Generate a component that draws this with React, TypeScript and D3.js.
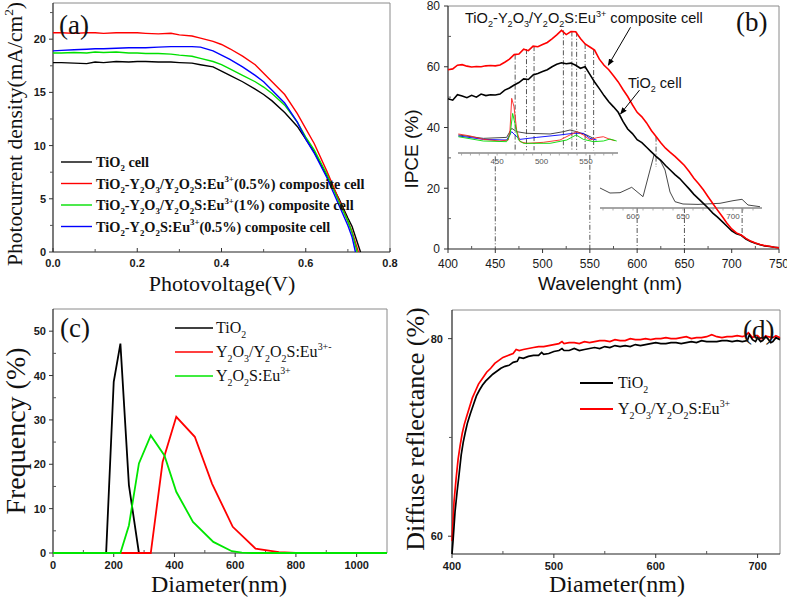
import React from "react";
import * as d3 from "d3";

const SERIF = "'Liberation Serif', 'Times New Roman', serif";
const SANS = "'Liberation Sans', Arial, sans-serif";

// ---------- (a) J-V curves ----------
const jvVoltage = [0, 0.02, 0.05, 0.08, 0.1, 0.12, 0.15, 0.18, 0.2, 0.22, 0.25, 0.28, 0.3, 0.33, 0.35, 0.38, 0.4, 0.42, 0.45, 0.48, 0.5, 0.52, 0.55, 0.58, 0.6, 0.62, 0.65, 0.68, 0.7, 0.71];
const jvTiO2 = [17.8, 17.8, 17.75, 17.7, 17.85, 17.8, 17.9, 17.85, 17.9, 17.9, 17.85, 17.85, 17.8, 17.75, 17.6, 17.4, 17.0, 16.6, 16.0, 15.3, 14.8, 14.2, 13.1, 11.8, 10.6, 9.4, 7.2, 4.9, 3.2, 2.4];
const jvComp05 = [20.6, 20.6, 20.55, 20.6, 20.6, 20.55, 20.6, 20.6, 20.6, 20.55, 20.5, 20.55, 20.4, 20.3, 20.1, 19.8, 19.5, 19.1, 18.4, 17.6, 16.8, 16.0, 14.8, 13.0, 11.6, 10.2, 7.6, 4.8, 2.9, 1.9];
const jvComp1 = [18.7, 18.7, 18.75, 18.7, 18.8, 18.75, 18.8, 18.7, 18.7, 18.65, 18.65, 18.6, 18.5, 18.4, 18.2, 17.9, 17.6, 17.2, 16.6, 16.0, 15.5, 14.9, 13.8, 12.2, 10.8, 9.6, 7.3, 4.6, 2.9, 1.8];
const jvY2O2S = [18.9, 18.95, 19.0, 19.05, 19.1, 19.1, 19.15, 19.2, 19.2, 19.2, 19.25, 19.3, 19.3, 19.3, 19.25, 18.9, 18.5, 18.1, 17.4, 16.6, 16.0, 15.2, 14.0, 12.2, 10.6, 9.3, 7.0, 4.3, 2.5, 1.4];
const jvVoc = [0.73, 0.725, 0.722, 0.718];
const jvColors = ["#000000", "#ff0000", "#00e000", "#0000ff"];
const jvLabels = [
  "TiO_2 cell",
  "TiO_2-Y_2O_3/Y_2O_2S:Eu^{3+}(0.5%) composite cell",
  "TiO_2-Y_2O_3/Y_2O_2S:Eu^{3+}(1%) composite cell",
  "TiO_2-Y_2O_2S:Eu^{3+}(0.5%) composite cell",
];

// ---------- (b) IPCE ----------
const ipceWl = d3.range(400, 751, 5);
const ipceComp = [59, 59.3, 60.5, 60.7, 60.2, 59.9, 60.1, 60.0, 60.3, 60.4, 60.3, 60.6, 61.5, 62.5, 64.0, 64.2, 65.8, 65.3, 66.8, 66.6, 67.3, 68.0, 69.2, 70.5, 72.0, 70.6, 71.6, 71.5, 69.3, 67.5, 66.5, 65.5, 62.5, 60.5, 59.0, 57.0, 55.0, 52.5, 50.2, 47.5, 45.0, 43.5, 41.5, 39.0, 37.0, 35.0, 33.2, 31.8, 30.5, 29.0, 27.5, 25.5, 23.3, 21.5, 19.5, 17.2, 15.0, 12.8, 10.7, 8.5, 6.6, 5.3, 4.6, 3.5, 2.6, 2.0, 1.5, 1.1, 0.9, 0.6, 0.4];
const ipceTiO2 = [49.5, 49.0, 50.8, 50.4, 49.8, 50.6, 50.0, 51.0, 50.5, 50.8, 50.7, 51.0, 52.3, 53.0, 54.0, 54.8, 56.0, 55.8, 57.3, 57.8, 58.4, 59.0, 60.0, 60.8, 61.3, 61.0, 61.2, 60.5, 59.5, 60.0, 57.5, 55.0, 52.8, 50.5, 48.5, 46.8, 45.0, 42.0, 39.5, 38.0, 36.0, 35.0, 33.5, 32.0, 30.5, 29.2, 27.5, 26.0, 24.5, 23.2, 21.5, 19.8, 18.0, 16.5, 15.0, 13.5, 11.8, 10.5, 9.0, 7.5, 6.0, 5.0, 4.5, 3.3, 2.5, 1.9, 1.4, 1.0, 0.8, 0.6, 0.4];
// guide lines (wavelength, top %, bottom %)
const ipceGuides: [number, number, number][] = [
  [471, 64.0, 32.5], [483, 65.8, 32.5], [491, 66.8, 32.5], [522, 72.0, 32.5],
  [531, 71.6, 32.5], [536, 71.5, 32.5], [545, 67.5, 32.5], [554, 65.5, 32.5],
  [450, 30.5, 0], [550, 31, 0], [600, 13.5, 0], [650, 13.5, 0], [711, 13.5, 3.6], [620, 37, 27],
];
// inset 1: emission spectra 406-586 nm (a.u.)
const inset1Red: [number, number][] = [[406.4, 17.3], [419.5, 15.5], [434.5, 12.4], [453, 10.9], [462.6, 11.8], [464.5, 20.9], [466.4, 49.7], [469, 42], [472, 20.9], [475.7, 10.3], [483.3, 8.8], [502, 9.7], [520.7, 11.8], [532, 16.4], [539.5, 19.4], [547, 16.4], [554.5, 11.8], [562, 13.9], [569.5, 14.8], [577, 12.4], [582.6, 11.2]];
const inset1Green: [number, number][] = [[406.4, 14.8], [434.5, 10.9], [460.7, 10.3], [464.5, 16.4], [467.5, 36], [470, 27], [474, 11.8], [479.6, 8.8], [509.6, 8.8], [528.4, 11.8], [538.9, 16.4], [547, 12.4], [558.4, 10.3], [569.6, 10.9], [577, 12.7], [584.5, 10.9]];
const inset1Blue: [number, number][] = [[406.4, 15.5], [434.5, 12.4], [460.7, 11.8], [466.4, 19.4], [470, 16.4], [475.7, 12.4], [494.5, 14.2], [520.7, 16.4], [535.7, 17.9], [547, 17.9], [554.5, 13.3], [562, 11.8]];
const inset1Black: [number, number][] = [[406.4, 16.4], [434.5, 13.3], [460.7, 14.2], [466.4, 22.4], [472, 19.4], [483.3, 17.9], [509.6, 17.3], [524.6, 19.4], [532, 20.9], [539.5, 19.4], [550.8, 16.4], [558.4, 13.3]];
const inset1Ticks = [450, 500, 550];
// inset 2: emission 567-729 nm (a.u.)
const inset2Curve: [number, number][] = [[567, 20], [577, 15], [587, 15.3], [598.7, 20.7], [610, 11.3], [617, 38], [621, 53], [627, 48], [632, 38], [637, 16], [642, 6.3], [650, 4], [665, 3.6], [687, 4.7], [700, 7.3], [709, 8.7], [715, 3], [727, 1.3]];
const inset2Ticks = [600, 650, 700];

// ---------- (c) particle size ----------
const sizeTiO2: [number, number][] = [[0, 0], [175, 0], [200, 38.6], [222, 47.2], [250, 15.3], [283, 0]];
const sizeY2O3: [number, number][] = [[0, 0], [322, 0], [361, 20.5], [406, 30.7], [467, 26.2], [524, 15.6], [592, 5.9], [667, 1.0], [744, 0.2], [800, 0]];
const sizeY2O2S: [number, number][] = [[0, 0], [222, 0], [250, 6.2], [283, 20.2], [322, 26.5], [367, 22], [406, 13.8], [461, 7], [528, 2.5], [589, 0.4], [622, 0.1], [655, 0], [1100, 0]];
const sizeLabels = ["TiO_2", "Y_2O_3/Y_2O_2S:Eu^{3+-}", "Y_2O_2S:Eu^{3+}"];

// ---------- (d) diffuse reflectance ----------
const drTiO2: [number, number][] = [[400, 58.2], [401, 59.5], [402, 61], [403, 62.5], [405, 64.5], [407, 66.3], [409, 68.2], [411, 69.5], [413, 70.5], [415, 71.4], [418, 72.4], [421, 73.3], [424, 74.2], [427, 74.8], [430, 75.3], [433, 75.7], [436, 76.0], [440, 76.4], [444, 76.7], [448, 77.0], [452, 77.2], [456, 77.3], [460, 77.6], [464, 77.7], [466, 78.1], [470, 78.0], [475, 78.2], [480, 78.3], [485, 78.3], [488, 78.6], [490, 78.4], [495, 78.5], [500, 78.7], [505, 78.8], [508, 79.0], [510, 78.8], [515, 78.8], [520, 79.0], [525, 78.8], [530, 78.9], [535, 79.0], [540, 79.1], [545, 79.0], [550, 79.2], [555, 79.1], [560, 79.3], [565, 79.2], [570, 79.3], [575, 79.2], [580, 79.4], [585, 79.3], [590, 79.4], [595, 79.5], [600, 79.6], [605, 79.5], [610, 79.5], [615, 79.6], [620, 79.6], [625, 79.5], [630, 79.6], [635, 79.7], [640, 79.6], [645, 79.8], [650, 79.7], [655, 79.7], [660, 79.7], [665, 79.8], [670, 79.8], [675, 79.7], [680, 79.8], [685, 79.7], [690, 79.8], [692, 80.4], [695, 79.9], [698, 79.7], [700, 80.1], [703, 79.7], [705, 79.8], [708, 80.2], [710, 80.0], [713, 79.6], [715, 79.7], [718, 80.1], [722, 79.9]];
const drY2O3: [number, number][] = [[400, 59.5], [401, 61.5], [402, 63.5], [404, 65.8], [406, 67.8], [408, 69.2], [410, 70.4], [412, 71.3], [414, 72.0], [417, 73.0], [420, 74.0], [423, 74.7], [426, 75.4], [430, 76.0], [434, 76.6], [438, 77.0], [442, 77.5], [446, 77.8], [450, 78.1], [455, 78.3], [460, 78.5], [463, 78.9], [466, 78.8], [470, 78.9], [475, 79.0], [480, 79.1], [485, 79.2], [490, 79.2], [495, 79.3], [500, 79.4], [505, 79.5], [508, 79.7], [510, 79.5], [515, 79.6], [520, 79.6], [525, 79.5], [530, 79.7], [535, 79.6], [540, 79.7], [545, 79.8], [550, 79.8], [555, 79.7], [560, 79.9], [565, 79.8], [570, 79.8], [575, 80.0], [580, 79.9], [585, 79.9], [590, 80.0], [595, 79.9], [600, 80.0], [605, 80.0], [610, 80.1], [615, 80.0], [620, 80.0], [625, 80.1], [630, 80.2], [635, 80.0], [640, 80.1], [645, 80.1], [650, 80.2], [655, 80.4], [660, 80.2], [665, 80.1], [670, 80.2], [675, 80.2], [680, 80.3], [685, 80.2], [688, 80.3], [691, 80.6], [695, 80.1], [698, 80.3], [700, 80.3], [703, 80.0], [705, 80.0], [708, 80.3], [710, 80.2], [715, 80.1], [718, 80.3], [722, 80.1]];
const drLabels = ["TiO_2", "Y_2O_3/Y_2O_2S:Eu^{3+}"];

// ---------- scales ----------
const aX = d3.scaleLinear().domain([0, 0.8]).range([53, 390]);
const aY = d3.scaleLinear().domain([0, 23.4]).range([252, 3]);
const bX = d3.scaleLinear().domain([400, 750]).range([448, 779]);
const bY = d3.scaleLinear().domain([0, 80]).range([249, 6]);
const i1X = d3.scaleLinear().domain([406, 586]).range([458, 618]);
const i1Y = d3.scaleLinear().domain([0, 50]).range([153, 98]);
const i2X = d3.scaleLinear().domain([567, 729]).range([600, 762]);
const i2Y = d3.scaleLinear().domain([0, 60]).range([208, 148]);
const cX = d3.scaleLinear().domain([0, 1100]).range([53, 387]);
const cY = d3.scaleLinear().domain([0, 55]).range([553, 309]);
const dX = d3.scaleLinear().domain([400, 722]).range([452, 780]);
const dY = d3.scaleLinear().domain([58.2, 82.9]).range([554, 310]);

type Sc = d3.ScaleLinear<number, number>;
const path = (sx: Sc, sy: Sc, pts: [number, number][]) =>
  d3.line<[number, number]>().x(d => sx(d[0])).y(d => sy(d[1]))(pts) ?? "";

// chemical formula text: _x subscript, ^{..} superscript
function Chem({ s, size }: { s: string; size: number }) {
  const parts: { t: string; k: number }[] = [];
  let buf = "";
  let i = 0;
  while (i < s.length) {
    const c = s[i];
    if (c === "_") {
      if (buf) parts.push({ t: buf, k: 0 });
      buf = "";
      parts.push({ t: s[i + 1], k: 1 });
      i += 2;
    } else if (c === "^") {
      if (buf) parts.push({ t: buf, k: 0 });
      buf = "";
      const end = s.indexOf("}", i);
      parts.push({ t: s.slice(i + 2, end), k: 2 });
      i = end + 1;
    } else {
      buf += c;
      i++;
    }
  }
  if (buf) parts.push({ t: buf, k: 0 });
  let cur = 0;
  return (
    <>
      {parts.map((p, j) => {
        const target = p.k === 1 ? size * 0.3 : p.k === 2 ? -size * 0.42 : 0;
        const dy = target - cur;
        cur = target;
        return (
          <tspan key={j} dy={dy} fontSize={p.k ? size * 0.62 : size}>
            {p.t}
          </tspan>
        );
      })}
    </>
  );
}

interface FrameProps {
  sx: Sc;
  sy: Sc;
  xMajor: number[];
  xMinor: number[];
  yMajor: number[];
  yMinor: number[];
  xFmt: (v: number) => string;
  yFmt: (v: number) => string;
  font: string;
  size: number;
  weight: string | number;
  xLabelY: number;
  yLabelGap: number;
  yMinorIn?: boolean;
  xMajorIn?: boolean;
}

function Frame(p: FrameProps) {
  const [x0, x1] = p.sx.range();
  const [y0, y1] = p.sy.range();
  return (
    <g>
      <line x1={x0} x2={x1} y1={y1} y2={y1} stroke="#8a8a8a" strokeWidth={1} />
      <line x1={x1} x2={x1} y1={y1} y2={y0} stroke="#8a8a8a" strokeWidth={1} />
      <line x1={x0} x2={x1} y1={y0} y2={y0} stroke="#222" strokeWidth={1.2} />
      <line x1={x0} x2={x0} y1={y1} y2={y0} stroke="#222" strokeWidth={1.2} />
      {p.xMajor.map(v => (
        <line key={"xM" + v} x1={p.sx(v)} x2={p.sx(v)} y1={p.xMajorIn ? y0 - 4 : y0} y2={y0 + (p.xMajorIn ? 0 : 4)} stroke="#333" />
      ))}
      {p.xMinor.map(v => (
        <line key={"xm" + v} x1={p.sx(v)} x2={p.sx(v)} y1={y0 - 3} y2={y0} stroke="#555" />
      ))}
      {p.yMajor.map(v => (
        <line key={"yM" + v} x1={x0 - 4} x2={x0} y1={p.sy(v)} y2={p.sy(v)} stroke="#333" />
      ))}
      {p.yMinor.map(v => (
        <line key={"ym" + v} x1={p.yMinorIn ? x0 : x0 - 3} x2={p.yMinorIn ? x0 + 3 : x0} y1={p.sy(v)} y2={p.sy(v)} stroke="#555" />
      ))}
      {p.xMajor.map(v => (
        <text key={"xl" + v} x={p.sx(v)} y={p.xLabelY} textAnchor="middle" fontFamily={p.font} fontSize={p.size} fontWeight={p.weight} fill="#1a1a1a">
          {p.xFmt(v)}
        </text>
      ))}
      {p.yMajor.map(v => (
        <text key={"yl" + v} x={x0 - p.yLabelGap} y={p.sy(v) + p.size * 0.36} textAnchor="end" fontFamily={p.font} fontSize={p.size} fontWeight={p.weight} fill="#1a1a1a">
          {p.yFmt(v)}
        </text>
      ))}
    </g>
  );
}

const f1 = d3.format(".1f");
const f0 = d3.format("d");

function PanelA() {
  const series = [jvTiO2, jvComp05, jvComp1, jvY2O2S].map((ys, k) => {
    const pts: [number, number][] = jvVoltage.map((v, i) => [v, ys[i]]);
    pts.push([jvVoc[k], 0]);
    return pts;
  });
  return (
    <g>
      <Frame sx={aX} sy={aY} xMajor={[0, 0.2, 0.4, 0.6, 0.8]} xMinor={[0.1, 0.3, 0.5, 0.7]} yMajor={[0, 5, 10, 15, 20]} yMinor={[2.5, 7.5, 12.5, 17.5, 22.5]}
        xFmt={f1} yFmt={f0} font={SANS} size={11} weight="bold" xLabelY={267} yLabelGap={7} xMajorIn />
      {series.map((pts, k) => (
        <path key={k} d={path(aX, aY, pts)} fill="none" stroke={jvColors[k]} strokeWidth={1.4} />
      ))}
      {jvLabels.map((lab, k) => {
        const y = 162 + k * 21.5;
        return (
          <g key={k}>
            <line x1={61} x2={92} y1={y} y2={y} stroke={jvColors[k]} strokeWidth={1.4} />
            <text x={96} y={y + 5} fontFamily={SERIF} fontWeight="bold" fontSize={14.3} fill="#111">
              <Chem s={lab} size={14.3} />
            </text>
          </g>
        );
      })}
      <text x={59} y={34} fontFamily={SERIF} fontSize={27} fill="#111">(a)</text>
      <text x={222} y={291} textAnchor="middle" fontFamily={SERIF} fontSize={22} fill="#111">Photovoltage(V)</text>
      <text transform="translate(22,134) rotate(-90)" textAnchor="middle" fontFamily={SERIF} fontSize={21.5} fill="#111">
        <Chem s="Photocurrent density(mA/cm^{2})" size={21.5} />
      </text>
    </g>
  );
}

function PanelB() {
  const comp: [number, number][] = ipceWl.map((w, i) => [w, ipceComp[i]]);
  const tio2: [number, number][] = ipceWl.map((w, i) => [w, ipceTiO2[i]]);
  const insetColors: [string, [number, number][]][] = [["#333", inset1Black], ["#0000ff", inset1Blue], ["#ff2020", inset1Red], ["#00dd00", inset1Green]];
  return (
    <g>
      <defs>
        <marker id="arr" viewBox="0 0 10 10" refX="9" refY="5" markerWidth="7" markerHeight="7" orient="auto">
          <path d="M0,1 L10,5 L0,9 z" fill="#000" />
        </marker>
      </defs>
      <Frame sx={bX} sy={bY} xMajor={d3.range(400, 751, 50)} xMinor={d3.range(425, 750, 50)} yMajor={[0, 20, 40, 60, 80]} yMinor={[10, 30, 50, 70]}
        xFmt={f0} yFmt={f0} font={SANS} size={12} weight="normal" xLabelY={268} yLabelGap={8} yMinorIn />
      {ipceGuides.map(([w, t, b], i) => (
        <line key={i} x1={bX(w)} x2={bX(w)} y1={bY(t)} y2={bY(b)} stroke="#444" strokeWidth={0.9} strokeDasharray="5,2,1,2" />
      ))}
      {/* inset 1 */}
      <line x1={i1X.range()[0]} x2={i1X.range()[1]} y1={i1Y(0)} y2={i1Y(0)} stroke="#888" strokeWidth={1.5} />
      {d3.range(410, 586, 10).map(v => (
        <line key={v} x1={i1X(v)} x2={i1X(v)} y1={i1Y(0)} y2={i1Y(0) + 2.5} stroke="#999" strokeWidth={0.8} />
      ))}
      {inset1Ticks.map(v => (
        <text key={v} x={i1X(v)} y={i1Y(0) + 11} textAnchor="middle" fontFamily={SANS} fontSize={8} fill="#555">{v}</text>
      ))}
      {insetColors.map(([c, pts], k) => (
        <path key={k} d={path(i1X, i1Y, pts)} fill="none" stroke={c} strokeWidth={0.9} />
      ))}
      {/* inset 2 */}
      <line x1={i2X.range()[0]} x2={i2X.range()[1]} y1={i2Y(0)} y2={i2Y(0)} stroke="#888" strokeWidth={1.5} />
      {d3.range(570, 729, 10).map(v => (
        <line key={v} x1={i2X(v)} x2={i2X(v)} y1={i2Y(0)} y2={i2Y(0) + 2.5} stroke="#999" strokeWidth={0.8} />
      ))}
      {inset2Ticks.map(v => (
        <text key={v} x={i2X(v)} y={i2Y(0) + 11} textAnchor="middle" fontFamily={SANS} fontSize={8} fill="#555">{v}</text>
      ))}
      <path d={path(i2X, i2Y, inset2Curve)} fill="none" stroke="#333" strokeWidth={0.9} />
      {/* main curves */}
      <path d={path(bX, bY, tio2)} fill="none" stroke="#000" strokeWidth={1.6} />
      <path d={path(bX, bY, comp)} fill="none" stroke="#ff0000" strokeWidth={1.6} />
      {/* annotations */}
      <text x={465} y={23} fontFamily={SANS} fontSize={14.6} fill="#111">
        <Chem s="TiO_2-Y_2O_3/Y_2O_2S:Eu^{3+} composite cell" size={14.6} />
      </text>
      <line x1={bX(593)} y1={bY(73)} x2={bX(569.5)} y2={bY(60.5)} stroke="#000" strokeWidth={1} markerEnd="url(#arr)" />
      <text x={628} y={88} fontFamily={SANS} fontSize={14.5} fill="#111">
        <Chem s="TiO_2 cell" size={14.5} />
      </text>
      <line x1={bX(602.5)} y1={bY(52.3)} x2={bX(582.5)} y2={bY(44.5)} stroke="#000" strokeWidth={1} markerEnd="url(#arr)" />
      <text x={736} y={31} fontFamily={SERIF} fontSize={27} fill="#111">(b)</text>
      <text x={610} y={290} textAnchor="middle" fontFamily={SANS} fontSize={19} fill="#111">Wavelenght (nm)</text>
      <text transform="translate(418,149) rotate(-90)" textAnchor="middle" fontFamily={SANS} fontSize={19} fill="#111">IPCE (%)</text>
    </g>
  );
}

function PanelC() {
  const series: [string, [number, number][]][] = [["#000", sizeTiO2], ["#ff0000", sizeY2O3], ["#00e600", sizeY2O2S]];
  return (
    <g>
      <Frame sx={cX} sy={cY} xMajor={d3.range(0, 1001, 200)} xMinor={d3.range(100, 1100, 200)} yMajor={d3.range(0, 51, 10)} yMinor={d3.range(5, 55, 10)}
        xFmt={f0} yFmt={f0} font={SANS} size={11} weight="bold" xLabelY={569} yLabelGap={7} yMinorIn />
      {series.map(([c, pts], k) => (
        <path key={k} d={path(cX, cY, pts)} fill="none" stroke={c} strokeWidth={1.8} />
      ))}
      {sizeLabels.map((lab, k) => {
        const y = 328 + k * 24;
        return (
          <g key={k}>
            <line x1={175} x2={213} y1={y} y2={y} stroke={series[k][0]} strokeWidth={1.6} />
            <text x={216} y={y + 5} fontFamily={SERIF} fontSize={16} fill="#111">
              <Chem s={lab} size={16} />
            </text>
          </g>
        );
      })}
      <text x={60} y={337} fontFamily={SERIF} fontSize={27} fill="#111">(c)</text>
      <text x={219} y={592} textAnchor="middle" fontFamily={SERIF} fontSize={24} fill="#111">Diameter(nm)</text>
      <text transform="translate(25,431) rotate(-90)" textAnchor="middle" fontFamily={SERIF} fontSize={28} fill="#111">Frequency (%)</text>
    </g>
  );
}

function PanelD() {
  const series: [string, [number, number][]][] = [["#ff0000", drY2O3], ["#000", drTiO2]];
  const legend: string[] = ["#000", "#ff0000"];
  return (
    <g>
      <Frame sx={dX} sy={dY} xMajor={[400, 500, 600, 700]} xMinor={[450, 550, 650]} yMajor={[60, 80]} yMinor={[70]}
        xFmt={f0} yFmt={f0} font={SANS} size={11} weight="bold" xLabelY={570} yLabelGap={9} />
      {series.map(([c, pts], k) => (
        <path key={k} d={path(dX, dY, pts)} fill="none" stroke={c} strokeWidth={1.7} />
      ))}
      {drLabels.map((lab, k) => {
        const y = 383 + k * 26;
        return (
          <g key={k}>
            <line x1={580} x2={613} y1={y} y2={y} stroke={legend[k]} strokeWidth={1.8} />
            <text x={618} y={y + 5} fontFamily={SERIF} fontSize={16} fill="#111">
              <Chem s={lab} size={16} />
            </text>
          </g>
        );
      })}
      <text x={743} y={339} fontFamily={SERIF} fontSize={27} fill="#111">(d)</text>
      <text x={617} y={592} textAnchor="middle" fontFamily={SERIF} fontSize={24} fill="#111">Diameter(nm)</text>
      <text transform="translate(424,429) rotate(-90)" textAnchor="middle" fontFamily={SERIF} fontSize={26} fill="#111">Diffuse reflectance (%)</text>
    </g>
  );
}

export default function App() {
  return (
    <svg width={787} height={598} style={{ position: "absolute", left: 0, top: 0, background: "#fff" }}>
      <rect width={787} height={598} fill="#fff" />
      <PanelA />
      <PanelB />
      <PanelC />
      <PanelD />
    </svg>
  );
}
